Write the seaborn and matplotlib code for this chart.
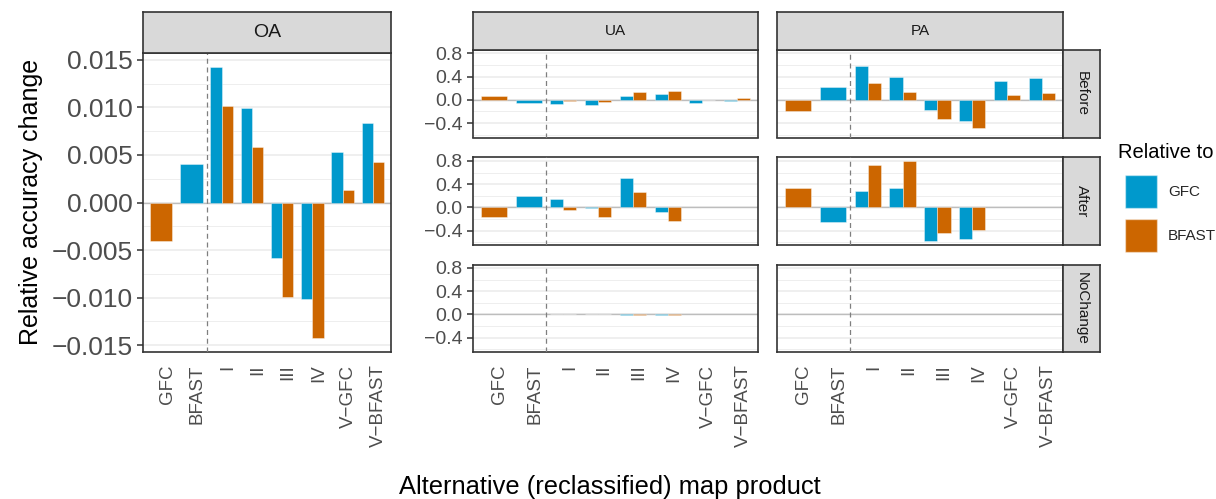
import numpy as np
import pandas as pd
import matplotlib
matplotlib.use("Agg")
import matplotlib.pyplot as plt
import matplotlib.transforms as mtransforms
import seaborn as sns
from matplotlib.patches import Patch
from matplotlib.ticker import MultipleLocator, FuncFormatter

# ---------------- data ----------------
nan = np.nan
products = ["GFC", "BFAST", "I", "II", "III", "IV", "V\u2212GFC", "V\u2212BFAST"]
relative_to = ["GFC", "BFAST"]
periods = ["Before", "After", "NoChange"]

# Overall accuracy
oa_gfc = [nan, 0.0041, 0.0143, 0.0099, -0.0058, -0.0102, 0.0053, 0.0084]
oa_bfast = [-0.0041, nan, 0.0102, 0.0058, -0.0099, -0.0143, 0.0013, 0.0043]

# User's accuracy
ua_before_gfc = [nan, -0.06, -0.08, -0.09, 0.065, 0.093, -0.06, -0.02]
ua_before_bfast = [0.058, nan, -0.02, -0.03, 0.13, 0.16, 0.0, 0.035]
ua_after_gfc = [nan, 0.19, 0.14, -0.015, 0.51, -0.085, nan, nan]
ua_after_bfast = [-0.16, nan, -0.04, -0.17, 0.27, -0.23, nan, nan]
ua_nochange_gfc = [nan, nan, 0.01, 0.01, -0.01, -0.01, nan, nan]
ua_nochange_bfast = [nan, nan, 0.01, 0.01, -0.01, -0.01, nan, nan]

# Producer's accuracy
pa_before_gfc = [nan, 0.22, 0.585, 0.40, -0.18, -0.365, 0.33, 0.37]
pa_before_bfast = [-0.185, nan, 0.29, 0.14, -0.33, -0.49, 0.08, 0.11]
pa_after_gfc = [nan, -0.25, 0.29, 0.33, -0.58, -0.55, nan, nan]
pa_after_bfast = [0.34, nan, 0.73, 0.79, -0.45, -0.39, nan, nan]
pa_nochange_gfc = [nan] * 8
pa_nochange_bfast = [nan] * 8

colors = {"GFC": "#0099CC", "BFAST": "#CC6600"}

# ---------------- style ----------------
sns.set_theme(style="white")
plt.rcParams["font.family"] = ["Liberation Sans", "DejaVu Sans"]
plt.rcParams["axes.unicode_minus"] = True

W, H = 1216, 499
fig = plt.figure(figsize=(W / 100, H / 100), dpi=100)
fig.patch.set_facecolor("white")
label_shift = mtransforms.ScaledTranslation(6 / 100, 0, fig.dpi_scale_trans)


def rect(x0, y0, x1, y1):
    return [x0 / W, 1 - y1 / H, (x1 - x0) / W, (y1 - y0) / H]


def long_df(gfc, bfast):
    rows = []
    for i, p in enumerate(products):
        for rel, vals in (("GFC", gfc), ("BFAST", bfast)):
            v = vals[i]
            if not np.isnan(v):
                rows.append((p, rel, v))
    df = pd.DataFrame(rows, columns=["product", "rel", "value"])
    if len(df):
        df["n"] = df.groupby("product")["value"].transform("size")
    else:
        df["n"] = []
    return df


def draw_bars(ax, gfc, bfast):
    df = long_df(gfc, bfast)
    common = dict(x="product", y="value", hue="rel", order=products,
                  hue_order=relative_to, palette=colors, errorbar=None,
                  width=0.75, gap=0, ax=ax, legend=False, saturation=1,
                  edgecolor=(1, 1, 1, 0.45), linewidth=0.6, zorder=2)
    pair = df[df["n"] == 2]
    single = df[df["n"] == 1]
    if len(pair):
        sns.barplot(data=pair, dodge=True, **common)
    if len(single):
        sns.barplot(data=single, dodge=False, **common)


def fmt_factory(decimals):
    def f(v, pos):
        if abs(v) < 1e-12:
            v = 0.0
        return f"{v:.{decimals}f}".replace("-", "\u2212")
    return FuncFormatter(f)


def style_panel(ax, ylim, major, minor, decimals, show_y, show_x, ytick_fs):
    ax.set_xticks(range(len(products)))
    ax.set_xticklabels(products)
    ax.set_xlim(-0.6, len(products) - 1 + 0.6)
    ax.set_ylim(ylim)
    ax.set_facecolor("white")
    ax.yaxis.set_major_locator(MultipleLocator(major))
    ax.yaxis.set_minor_locator(MultipleLocator(minor))
    ax.yaxis.set_major_formatter(fmt_factory(decimals))
    ax.set_axisbelow(True)
    ax.grid(True, axis="y", which="major", color="#EBEBEB", lw=1.1)
    ax.grid(True, axis="y", which="minor", color="#EBEBEB", lw=0.6)
    ax.grid(False, axis="x")
    ax.axhline(0, color="#BDBDBD", lw=1.0, zorder=1)
    ax.axvline(1.5, color="#7F7F7F", lw=0.9, ls=(0, (4, 3)), zorder=3)
    for s in ax.spines.values():
        s.set_visible(True)
        s.set_color("#333333")
        s.set_linewidth(1.2)
    ax.set_xlabel("")
    ax.set_ylabel("")
    ax.tick_params(axis="y", which="major", length=4.5, width=1.1,
                   color="#333333", labelsize=ytick_fs, labelcolor="#4D4D4D",
                   pad=3, left=show_y, labelleft=show_y)
    ax.tick_params(axis="y", which="minor", length=0)
    ax.tick_params(axis="x", length=0, labelbottom=show_x, labelsize=13.5,
                   labelcolor="#4D4D4D", labelrotation=90, pad=9)
    for lab in ax.get_xticklabels():
        lab.set_transform(lab.get_transform() + label_shift)


def strip(px, text, fs, rotation=0):
    sa = fig.add_axes(rect(*px))
    sa.set_facecolor("#D9D9D9")
    sa.set_xticks([])
    sa.set_yticks([])
    for s in sa.spines.values():
        s.set_visible(True)
        s.set_color("#333333")
        s.set_linewidth(1.2)
    sa.text(0.5, 0.5, text, ha="center", va="center", fontsize=fs,
            color="#1A1A1A", rotation=rotation, transform=sa.transAxes)


def padded(arrs):
    vals = np.concatenate([np.asarray(a, dtype=float) for a in arrs])
    lo, hi = np.nanmin(vals), np.nanmax(vals)
    pad = 0.05 * (hi - lo)
    return (lo - pad, hi + pad)


# ---------------- OA panel ----------------
ax_oa = fig.add_axes(rect(143, 53, 391, 352))
draw_bars(ax_oa, oa_gfc, oa_bfast)
style_panel(ax_oa, padded([oa_gfc, oa_bfast]), 0.005, 0.0025, 3, True, True, 19)
strip((143, 12, 391, 53), "OA", 14)

# ---------------- UA / PA panels ----------------
ua = {"Before": (ua_before_gfc, ua_before_bfast),
      "After": (ua_after_gfc, ua_after_bfast),
      "NoChange": (ua_nochange_gfc, ua_nochange_bfast)}
pa = {"Before": (pa_before_gfc, pa_before_bfast),
      "After": (pa_after_gfc, pa_after_bfast),
      "NoChange": (pa_nochange_gfc, pa_nochange_bfast)}
ylim_sub = padded([a for d in (ua, pa) for pair in d.values() for a in pair])

rows_px = [(50, 137.5), (157.5, 245), (264.5, 352)]
cols_px = {"UA": (473, 758), "PA": (777, 1063)}

for r, period in enumerate(periods):
    y0, y1 = rows_px[r]
    for name, data in (("UA", ua), ("PA", pa)):
        x0, x1 = cols_px[name]
        ax = fig.add_axes(rect(x0, y0, x1, y1))
        draw_bars(ax, *data[period])
        style_panel(ax, ylim_sub, 0.4, 0.2, 1, name == "UA",
                    r == len(periods) - 1, 14)
    strip((1063, y0, 1100, y1), period, 11, rotation=270)

strip((473, 12, 758, 50), "UA", 11)
strip((777, 12, 1063, 50), "PA", 11)

# ---------------- titles & legend ----------------
fig.text(31 / W, 1 - 202 / H, "Relative accuracy change", rotation=90,
         ha="center", va="center", fontsize=18, color="black")
fig.text(610 / W, 1 - 487 / H, "Alternative (reclassified) map product",
         ha="center", va="center", fontsize=18.4, color="black")

fig.text(1118 / W, 1 - 153 / H, "Relative to", ha="left", va="center",
         fontsize=14.5, color="black")
handles = [Patch(facecolor=colors[r], edgecolor=(1, 1, 1, 0.45), label=r)
           for r in relative_to]
fig.legend(handles=handles, loc="upper left",
           bbox_to_anchor=(1125 / W, 1 - 175 / H), frameon=False,
           fontsize=11, handlelength=2.1, handleheight=2.94,
           handletextpad=0.7, labelspacing=0.72,
           borderpad=0, borderaxespad=0)

fig.savefig("out.png", dpi=100, facecolor="white")
